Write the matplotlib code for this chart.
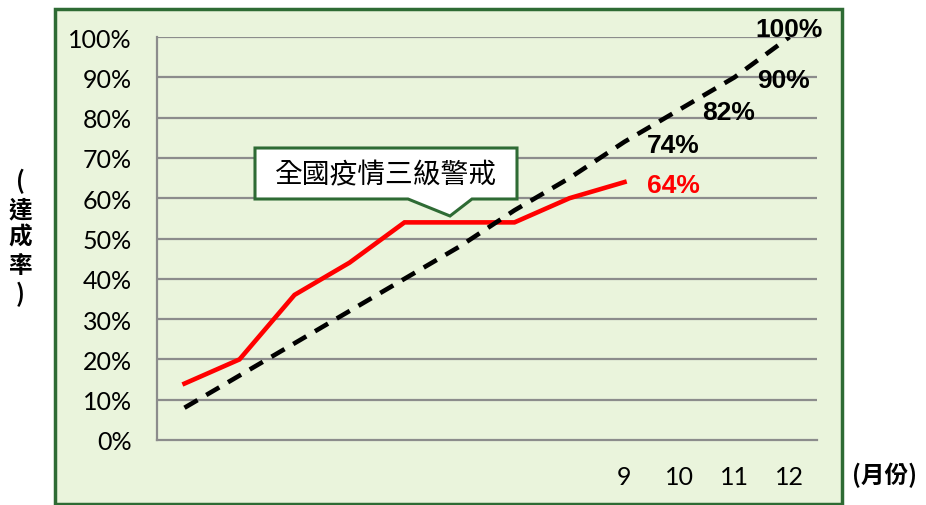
import matplotlib
matplotlib.use("Agg")
import matplotlib.pyplot as plt
from matplotlib.patches import Rectangle, Polygon

plt.rcParams['font.family'] = ['Lato', 'Noto Sans CJK TC', 'DejaVu Sans']

months = [1, 2, 3, 4, 5, 6, 7, 8, 9, 10, 11, 12]
actual_months = [1, 2, 3, 4, 5, 6, 7, 8, 9]
actual = [14, 20, 36, 44, 54, 54, 54, 60, 64]
target = [8, 16, 24, 32, 40, 48, 57, 65, 74, 82, 90, 100]
xtick_months = [9, 10, 11, 12]
ytick_vals = [0, 10, 20, 30, 40, 50, 60, 70, 80, 90, 100]
label_months = [9, 10, 11, 12]
callout_text = "全國疫情三級警戒"
ylabel_text = "(\n達\n成\n率\n)"
xlabel_text = "(月份)"

W, H = 926, 506
fig = plt.figure(figsize=(W / 100, H / 100), dpi=100)
fig.patch.set_facecolor('white')

bg = '#EAF4DC'
border = '#2E6B34'
fig.patches.append(Rectangle((55 / W, 1 - 505 / H), (842 - 55) / W, (505 - 10) / H,
                             transform=fig.transFigure, facecolor=bg, edgecolor=border,
                             linewidth=2.5, zorder=-5))

ax = fig.add_axes([157 / W, 1 - 441 / H, (817 - 157) / W, (441 - 38) / H])
ax.set_zorder(1)
ax.set_facecolor('none')
ax.set_xlim(0.5, 12.5)
ax.set_ylim(0, 100)

for v in ytick_vals[1:]:
    ax.axhline(v, color='#8C8C8C', linewidth=1.6, zorder=1)
for s in ['top', 'right']:
    ax.spines[s].set_visible(False)
for s in ['left', 'bottom']:
    ax.spines[s].set_color('#8C8C8C')
    ax.spines[s].set_linewidth(1.6)

ax.set_yticks(ytick_vals)
ax.set_yticklabels([f"{v}%" for v in ytick_vals], fontsize=18, color='black')
ax.set_xticks(xtick_months)
ax.set_xticklabels([str(m) for m in xtick_months], fontsize=18, color='black')
ax.tick_params(axis='both', length=0)
ax.tick_params(axis='x', pad=18)
ax.tick_params(axis='y', pad=18)

ax.plot(actual_months, actual, color='#FF0000', linewidth=3.3, zorder=3, solid_joinstyle='miter')
ax.plot(months, target, color='black', linewidth=3.3, linestyle=(0, (3.3, 2.2)), zorder=3)

bold_font = ['Liberation Sans', 'Noto Sans CJK TC']
for m in label_months:
    v = target[m - 1]
    if m == 12:
        ax.annotate(f"{v}%", (m, v), xytext=(0, 6), textcoords='offset points',
                    ha='center', va='center', fontsize=19, fontweight='bold',
                    family=bold_font, color='black', zorder=5, annotation_clip=False)
    else:
        ax.annotate(f"{v}%", (m, v), xytext=(35, -2), textcoords='offset points',
                    ha='center', va='center', fontsize=19, fontweight='bold',
                    family=bold_font, color='black', zorder=5)
ax.annotate(f"{actual[-1]}%", (actual_months[-1], actual[-1]), xytext=(35, -2),
            textcoords='offset points', ha='center', va='center', fontsize=19,
            fontweight='bold', family=bold_font, color='#FF0000', zorder=5)

# Callout box with pointer (figure pixel coordinates)
def fp(x, y):
    return (x / W, 1 - y / H)

pts = [fp(255, 149), fp(517, 149), fp(517, 200), fp(472, 200), fp(450, 217),
       fp(408, 200), fp(255, 200)]
fig.patches.append(Polygon(pts, closed=True, transform=fig.transFigure,
                           facecolor='white', edgecolor=border, linewidth=2.2, zorder=10))
fig.text(386 / W, 1 - 175 / H, callout_text, ha='center', va='center', fontsize=20,
         family=['Noto Sans CJK TC'], color='black', zorder=11)

# Y axis label (vertical stacked characters, one text)
fig.text(20 / W, 1 - 238 / H, ylabel_text, ha='center', va='center', fontsize=17,
         fontweight='bold', family=['Noto Sans CJK TC'], color='black',
         linespacing=1.2, multialignment='center')

# X axis label
fig.text(884 / W, 1 - 475 / H, xlabel_text, ha='center', va='center', fontsize=17,
         fontweight='bold', family=['Noto Sans CJK TC'], color='black')

fig.savefig('out.png', dpi=100, facecolor='white')
